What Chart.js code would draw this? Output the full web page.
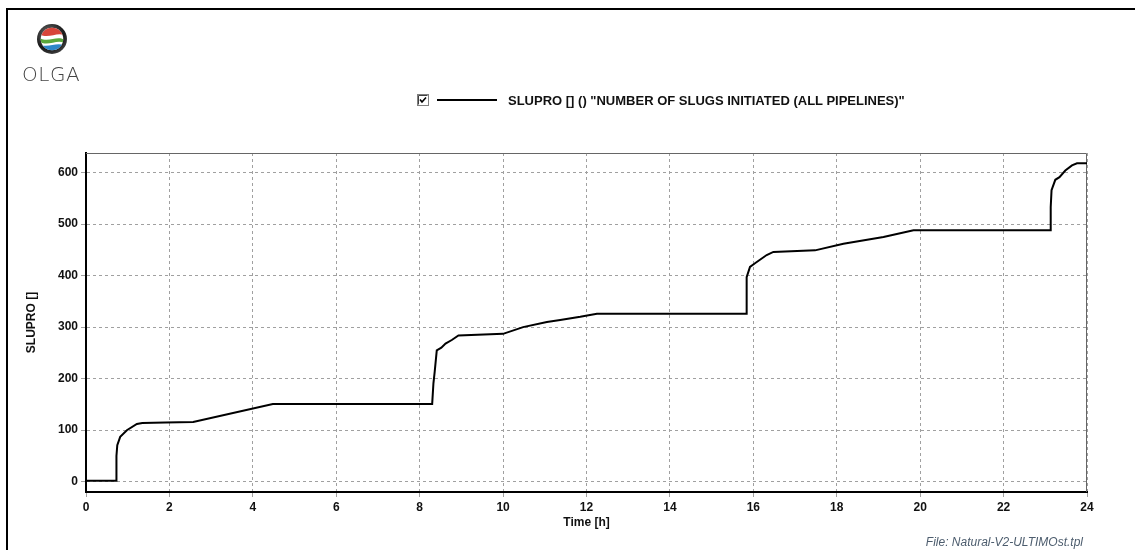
<!DOCTYPE html>
<html>
<head>
<meta charset="utf-8">
<title>SLUPRO</title>
<script src="https://cdn.jsdelivr.net/npm/chart.js"></script>
<style>
  body { margin: 0; background: #fff; font-family: "Liberation Sans", Arial, sans-serif; }
  #page { position: relative; width: 1135px; height: 550px; overflow: hidden; }
  #frame { position: absolute; left: 6px; top: 8px; width: 1200px; height: 600px;
           border-left: 2px solid #000; border-top: 2px solid #000; }
  #grafico { position: absolute; left: 0; top: 0; }
  #logo { position: absolute; left: 37px; top: 24px; }
  #olga { position: absolute; left: 22px; top: 62px; font-family: "DejaVu Sans", sans-serif;
          font-size: 20px; font-weight: 300; letter-spacing: 0.5px; color: #444; }
  #legenda { position: absolute; left: 417px; top: 92px; height: 16px; display: flex; align-items: center;
             font-weight: bold; font-size: 13px; color: #111; white-space: nowrap; }
  #legenda .traco { width: 60px; height: 2px; background: #000; margin: 0 11px 0 8px; }
  #arquivo { position: absolute; right: 52px; top: 535px; font-style: italic; font-size: 12px; color: #4d5d6e; }
</style>
</head>
<body>
<div id="page">
  <div id="frame"></div>
  <canvas id="grafico" width="1135" height="550"></canvas>

  <!-- logotipo -->
  <svg id="logo" width="30" height="30" viewBox="-16 -16 32 32">
    <defs>
      <radialGradient id="anel" cx="0.4" cy="0.35" r="0.7">
        <stop offset="0" stop-color="#777"/>
        <stop offset="0.7" stop-color="#1a1a1a"/>
        <stop offset="1" stop-color="#444"/>
      </radialGradient>
      <clipPath id="miolo"><circle r="12"/></clipPath>
    </defs>
    <circle r="16" fill="url(#anel)"/>
    <g clip-path="url(#miolo)">
      <rect x="-13" y="-13" width="26" height="26" fill="#fff"/>
      <path d="M-13,-13 H13 V-4 C6,-8 -4,0 -13,-5 Z" fill="#d8453a"/>
      <path d="M-13,-1 C-4,4 6,-4 13,1 V4 C5,0 -4,8 -13,3 Z" fill="#5aa83c"/>
      <path d="M-13,6 C-4,10 5,3 13,7 V13 H-13 Z" fill="#2d86c8"/>
    </g>
  </svg>
  <div id="olga">OLGA</div>

  <!-- legenda -->
  <div id="legenda">
    <svg width="12" height="12" viewBox="0 0 12 12">
      <rect x="0.5" y="0.5" width="11" height="11" fill="#fff" stroke="#808080"/>
      <path d="M1.5,1.5 H10.5" stroke="#404040"/>
      <path d="M1.5,1.5 V10.5" stroke="#404040"/>
      <path d="M3,5.5 L5,8 L9,3.5" fill="none" stroke="#000" stroke-width="1.6"/>
    </svg>
    <div class="traco"></div>
    <span>SLUPRO [] () "NUMBER OF SLUGS INITIATED (ALL PIPELINES)"</span>
  </div>

  <div id="arquivo">File: Natural-V2-ULTIMOst.tpl</div>
</div>

<script>
// Tempo de simulação [h] e número acumulado de golfadas
const timeH = [
  0, 0.72, 0.73, 0.75, 0.82, 0.98, 1.22, 1.35, 1.9, 2.57, 4.48,
  8.30, 8.33, 8.36, 8.41, 8.52, 8.62, 8.77, 8.93, 10.0,
  10.48, 11.05, 11.37, 11.85, 12.25, 15.83, 15.84, 15.92, 16.04, 16.32,
  16.48, 17.48, 18.16, 19.12, 19.84, 23.12, 23.13, 23.15, 23.24, 23.34,
  23.48, 23.64, 23.76, 24.0,
];
const slugs = [
  2, 2, 50, 71, 87, 100, 112, 114, 115, 116, 151,
  151, 191, 213, 255, 260, 268, 275, 284, 287,
  300, 310, 314, 320, 326, 326, 397, 417, 424, 440,
  446, 449, 462, 475, 488, 488, 533, 566, 586, 591,
  604, 614, 618, 618,
];
const yTicks = [0, 100, 200, 300, 400, 500, 600];

// moldura superior e direita em cinza
const moldura = {
  id: "moldura",
  beforeDatasetsDraw(chart) {
    const { ctx, chartArea: a } = chart;
    ctx.save();
    ctx.strokeStyle = "#666";
    ctx.lineWidth = 1;
    ctx.beginPath();
    ctx.moveTo(a.left, a.top + 0.5);
    ctx.lineTo(a.right - 0.5, a.top + 0.5);
    ctx.lineTo(a.right - 0.5, a.bottom);
    ctx.stroke();
    ctx.restore();
  },
};

const fonte = { family: "'Liberation Sans', Arial, sans-serif", size: 12, weight: "bold" };

let chart = new Chart(document.getElementById("grafico"), {
  type: "line",
  data: {
    datasets: [
      {
        label: "SLUPRO",
        data: timeH.map((t, i) => ({ x: t, y: slugs[i] })),
        borderColor: "#000",
        borderWidth: 2,
        pointRadius: 0,
        tension: 0,
        fill: false,
      },
    ],
  },
  options: {
    responsive: false,
    devicePixelRatio: 1,
    animation: false,
    layout: { padding: { left: 20, top: 153, right: 48, bottom: 0 } },
    plugins: {
      legend: { display: false },
      tooltip: { enabled: false },
    },
    scales: {
      x: {
        type: "linear",
        min: 0,
        max: 24,
        ticks: { stepSize: 2, color: "#111", font: fonte, padding: 3, maxRotation: 0 },
        grid: { color: "#a0a0a0", tickLength: 5, tickColor: "#a0a0a0" },
        border: { color: "#000", width: 2, dash: [3, 3] },
        title: { display: true, text: "Time [h]", color: "#111", font: fonte, padding: { top: 0, bottom: 20 } },
        afterFit(scale) { scale.height = 58; },
      },
      y: {
        type: "linear",
        min: -20,
        max: 638,
        afterBuildTicks(scale) { scale.ticks = yTicks.map((v) => ({ value: v })); },
        ticks: { color: "#111", font: fonte, padding: 3 },
        grid: { color: "#a0a0a0", tickLength: 5, tickColor: "#a0a0a0" },
        border: { color: "#000", width: 2, dash: [3, 3] },
        title: { display: true, text: "SLUPRO []", color: "#111", font: fonte, padding: { top: 4, bottom: 0 } },
        afterFit(scale) { scale.width = 66; },
      },
    },
  },
  plugins: [moldura],
});
</script>
</body>
</html>
